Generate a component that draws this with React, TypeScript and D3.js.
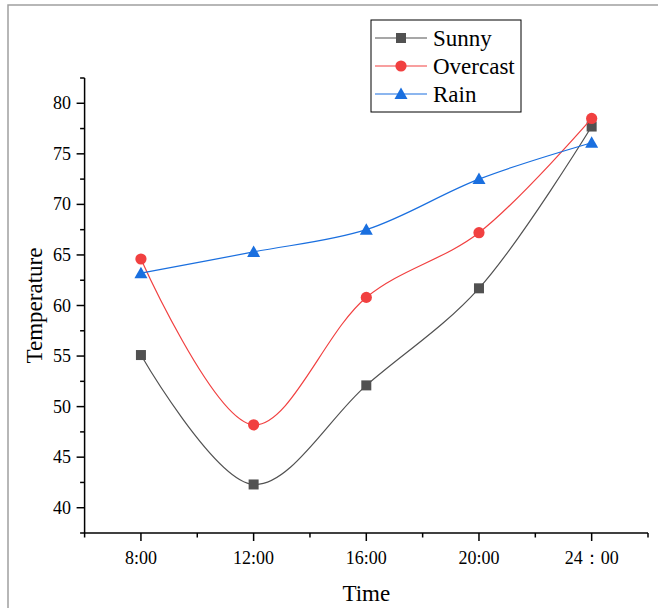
import React from "react";
import * as d3 from "d3";

const hours = [8, 12, 16, 20, 24];
const xTickLabels = ["8:00", "12:00", "16:00", "20:00", "24：00"];
const sunny = [55.1, 42.3, 52.1, 61.7, 77.7];
const overcast = [64.6, 48.2, 60.8, 67.2, 78.5];
const rain = [63.2, 65.3, 67.5, 72.5, 76.1];
const yMajorTicks = [40, 45, 50, 55, 60, 65, 70, 75, 80];
const yMinorTicks = [37.5, 42.5, 47.5, 52.5, 57.5, 62.5, 67.5, 72.5, 77.5, 82.5];
const xMinorTicks = [6, 10, 14, 18, 22, 26];
const seriesNames = ["Sunny", "Overcast", "Rain"];
const seriesColors = ["#515151", "#F14040", "#1A6FDF"];
const seriesShapes = ["square", "circle", "triangle"];

const FONT = "'Liberation Serif', 'Times New Roman', serif";

function Marker({ shape, x, y, color }: { shape: string; x: number; y: number; color: string }) {
  if (shape === "square") return <rect x={x - 5} y={y - 5} width={10} height={10} fill={color} />;
  if (shape === "circle") return <circle cx={x} cy={y} r={5.6} fill={color} />;
  return <path d={`M${x},${y - 6.5} L${x + 6.5},${y + 5} L${x - 6.5},${y + 5} Z`} fill={color} />;
}

export default function App() {
  const x = d3.scaleLinear().domain([6, 26]).range([84.6, 648]);
  const y = d3.scaleLinear().domain([37.5, 82.5]).range([533, 78]);
  const series = [sunny, overcast, rain];
  const line = d3
    .line<number>()
    .x((_, i) => x(hours[i]))
    .y((d) => y(d))
    .curve(d3.curveCatmullRom.alpha(0.5));

  const legX = 371, legY = 20;
  return (
    <svg width={658} height={608} style={{ position: "absolute", left: 0, top: 0 }} fontFamily={FONT}>
      <rect x={0} y={0} width={658} height={608} fill="#fff" />
      <path d="M8,608 L8,5 L658,5" fill="none" stroke="#a0a0a0" strokeWidth={1.5} />

      {/* series */}
      {series.map((s, k) => (
        <g key={k}>
          <path d={line(s) || ""} fill="none" stroke={seriesColors[k]} strokeWidth={1.2} />
          {s.map((v, i) => (
            <Marker key={i} shape={seriesShapes[k]} x={x(hours[i])} y={y(v)} color={seriesColors[k]} />
          ))}
        </g>
      ))}

      {/* y axis */}
      <line x1={x(6)} x2={x(6)} y1={y(82.5)} y2={y(37.5)} stroke="#000" strokeWidth={1.5} />
      {yMajorTicks.map((t) => (
        <g key={t}>
          <line x1={x(6) - 8} x2={x(6)} y1={y(t)} y2={y(t)} stroke="#000" strokeWidth={1.5} />
          <text x={71} y={y(t)} textAnchor="end" dominantBaseline="central" fontSize={18}>
            {t}
          </text>
        </g>
      ))}
      {yMinorTicks.map((t) => (
        <line key={t} x1={x(6) - 4.5} x2={x(6)} y1={y(t)} y2={y(t)} stroke="#000" strokeWidth={1.5} />
      ))}

      {/* x axis */}
      <line x1={x(6)} x2={x(26)} y1={y(37.5)} y2={y(37.5)} stroke="#000" strokeWidth={1.5} />
      {hours.map((h, i) => (
        <g key={h}>
          <line x1={x(h)} x2={x(h)} y1={y(37.5)} y2={y(37.5) + 8} stroke="#000" strokeWidth={1.5} />
          <text x={x(h)} y={564} textAnchor="middle" fontSize={18}>
            {xTickLabels[i]}
          </text>
        </g>
      ))}
      {xMinorTicks.map((t) => (
        <line key={t} x1={x(t)} x2={x(t)} y1={y(37.5)} y2={y(37.5) + 4.5} stroke="#000" strokeWidth={1.5} />
      ))}

      {/* axis titles */}
      <text x={(x(6) + x(26)) / 2} y={601} textAnchor="middle" fontSize={23}>
        Time
      </text>
      <text transform={`translate(42,${(y(82.5) + y(37.5)) / 2}) rotate(-90)`} textAnchor="middle" fontSize={23}>
        Temperature
      </text>

      {/* legend */}
      <rect x={legX} y={legY} width={150} height={92} fill="#fff" stroke="#000" strokeWidth={1} />
      {seriesNames.map((n, k) => {
        const cy = legY + 18 + k * 28;
        return (
          <g key={n}>
            <line x1={legX + 4} x2={legX + 56} y1={cy} y2={cy} stroke={seriesColors[k]} strokeWidth={1.2} />
            <Marker shape={seriesShapes[k]} x={legX + 30} y={cy} color={seriesColors[k]} />
            <text x={legX + 62} y={cy} dominantBaseline="central" fontSize={23}>
              {n}
            </text>
          </g>
        );
      })}
    </svg>
  );
}
